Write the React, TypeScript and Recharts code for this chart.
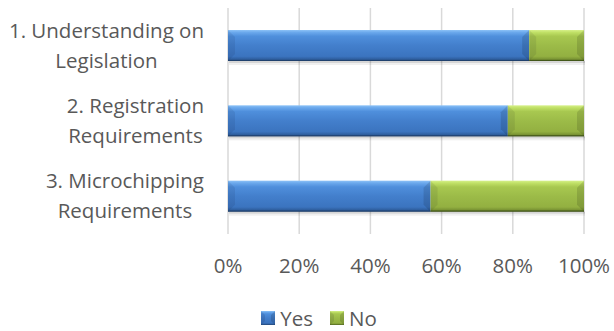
import React from 'react';
import { BarChart, Bar, XAxis, YAxis, CartesianGrid } from 'recharts';

const categories = ['1. Understanding on\nLegislation', '2. Registration\nRequirements', '3. Microchipping\nRequirements'];
const yesValues = [84.6, 78.6, 56.9];
const noValues = [15.4, 21.4, 43.1];
const xTicks = [0, 20, 40, 60, 80, 100];
const seriesNames = ['Yes', 'No'];

const data = categories.map((c, i) => ({ category: c, yes: yesValues[i], no: noValues[i] }));

const FONT = '"Open Sans", sans-serif';
const FS = 20.5;
const TEXT = '#595959';

type Pal = { id: string; base: string; stops: [number, string][]; edge: string };
const BLUE: Pal = {
  id: 'gBlue',
  base: '#4080cc',
  edge: '#1f3f6a',
  stops: [[0, '#8cc2f7'], [0.08, '#6aa8ec'], [0.2, '#4f8fdc'], [0.5, '#437fcc'], [0.85, '#3b74bf'], [0.94, '#2f5f9f'], [1, '#1f3f6a']],
};
const GREEN: Pal = {
  id: 'gGreen',
  base: '#9bbb48',
  edge: '#3f5218',
  stops: [[0, '#d6f08a'], [0.08, '#c0e066'], [0.2, '#a8c850'], [0.5, '#9cbb48'], [0.85, '#93b041'], [0.94, '#7a9434'], [1, '#3f5218']],
};
const pals = [BLUE, GREEN];

let ctx: CanvasRenderingContext2D | null = null;
const measure = (s: string) => {
  if (!ctx) {
    const c = document.createElement('canvas');
    ctx = c.getContext('2d');
  }
  if (!ctx) return s.length * FS * 0.5;
  ctx.font = `${FS}px "Open Sans"`;
  return ctx.measureText(s).width;
};

const Grad = ({ pal, id }: { pal: Pal; id: string }) => (
  <linearGradient id={id} x1="0" y1="0" x2="0" y2="1">
    {pal.stops.map(([o, c], i) => (
      <stop key={i} offset={o} stopColor={c} />
    ))}
  </linearGradient>
);

const makeShape = (pal: Pal) => (props: any) => {
  const { x, y, width: w, height: h } = props;
  if (!w || w <= 0 || !h) return null;
  const b = Math.min(7, w / 2, h / 2);
  return (
    <g>
      <rect x={x + 1} y={y + h} width={w} height={2} fill="rgba(0,0,0,0.16)" />
      <rect x={x + 1} y={y + h + 2} width={w} height={2} fill="rgba(0,0,0,0.06)" />
      <rect x={x} y={y} width={w} height={h} fill={`url(#${pal.id})`} />
      <polygon points={`${x},${y} ${x + b},${y + b} ${x + b},${y + h - b} ${x},${y + h}`} fill="rgba(0,0,30,0.08)" />
      <polygon points={`${x + w},${y} ${x + w - b},${y + b} ${x + w - b},${y + h - b} ${x + w},${y + h}`} fill="rgba(0,0,0,0.12)" />
      <rect x={x} y={y + h - 1} width={w} height={1} fill={pal.edge} opacity={0.7} />
    </g>
  );
};

const CategoryTick = (props: any) => {
  const { x, y, payload } = props;
  const lines = String(payload.value).split('\n');
  const bw = Math.max(...lines.map(measure));
  const right = x - 24;
  const cx = right - bw / 2;
  const n = lines.length;
  return (
    <g>
      {lines.map((l, i) => (
        <text key={i} x={cx} y={y + (i - (n - 1) / 2) * 30 + 7} textAnchor="middle" fontFamily={FONT} fontSize={FS} fill={TEXT}>
          {l}
        </text>
      ))}
    </g>
  );
};

const ValueTick = (props: any) => {
  const { x, y, payload } = props;
  return (
    <text x={x} y={y + 39} textAnchor="middle" fontFamily={FONT} fontSize={FS} fill={TEXT}>
      {`${payload.value}%`}
    </text>
  );
};

const ChartLegend = () => (
  <div
    style={{
      position: 'absolute',
      top: 306,
      left: 0,
      width: 614,
      display: 'flex',
      justifyContent: 'center',
      alignItems: 'center',
      fontFamily: FONT,
      fontSize: FS,
      color: TEXT,
      lineHeight: '24px',
    }}
  >
    <div style={{ display: 'flex', alignItems: 'center', marginLeft: 24 }}>
      {seriesNames.map((name, i) => {
        const pal = pals[i];
        return (
          <span key={name} style={{ display: 'flex', alignItems: 'center', marginRight: i === 0 ? 17 : 0 }}>
            <svg width={14} height={14} style={{ marginRight: 5 }}>
              <defs>
                <Grad pal={pal} id={`lg${i}`} />
              </defs>
              <rect x={0} y={0} width={14} height={14} fill={`url(#lg${i})`} />
              <polygon points="0,0 4,4 4,10 0,14" fill="rgba(0,0,30,0.1)" />
              <polygon points="14,0 10,4 10,10 14,14" fill="rgba(0,0,0,0.14)" />
            </svg>
            {name}
          </span>
        );
      })}
    </div>
  </div>
);

export default function App() {
  return (
    <div style={{ position: 'absolute', left: 0, top: 0, width: 614, height: 331, background: '#fff' }}>
      <BarChart width={614} height={331} data={data} layout="vertical" margin={{ top: 8, right: 30, left: 0, bottom: 57 }} barSize={31}>
        <defs>
          <Grad pal={BLUE} id={BLUE.id} />
          <Grad pal={GREEN} id={GREEN.id} />
        </defs>
        <CartesianGrid horizontal={false} vertical stroke="#d9d9d9" strokeWidth={1.5} />
        <XAxis type="number" domain={[0, 100]} ticks={xTicks} axisLine={false} tickLine={false} tickSize={0} tickMargin={0} tick={<ValueTick />} interval={0} height={40} />
        <YAxis type="category" dataKey="category" width={228} axisLine={false} tickLine={false} tickSize={0} tickMargin={0} tick={<CategoryTick />} interval={0} />
        <Bar dataKey="yes" name={seriesNames[0]} stackId="a" fill={BLUE.base} shape={makeShape(BLUE)} isAnimationActive={false} />
        <Bar dataKey="no" name={seriesNames[1]} stackId="a" fill={GREEN.base} shape={makeShape(GREEN)} isAnimationActive={false} />
      </BarChart>
      <ChartLegend />
    </div>
  );
}
